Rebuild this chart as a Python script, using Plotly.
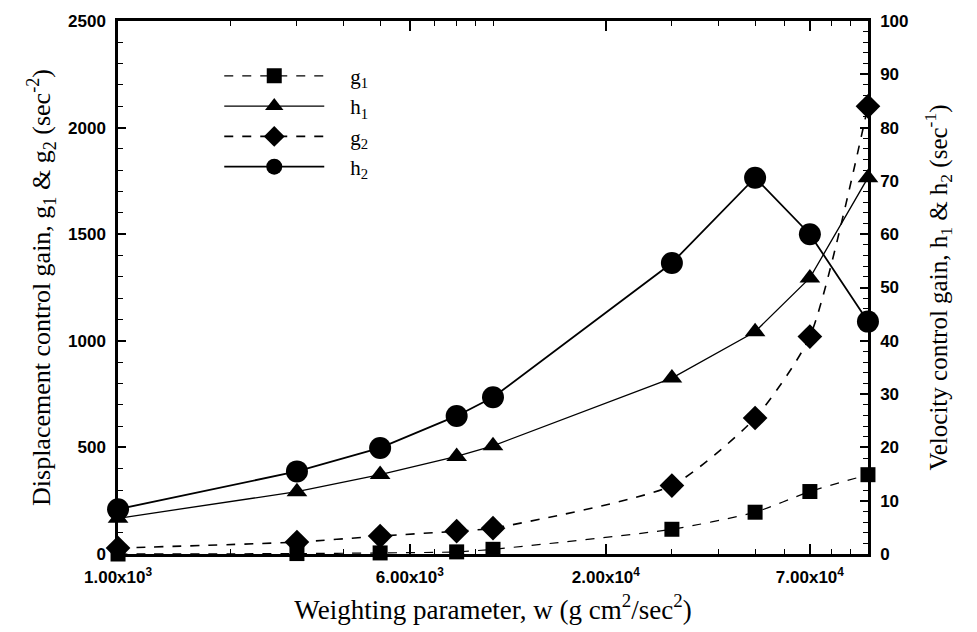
import plotly.graph_objects as go

w = [1000, 3000, 5000, 8000, 10000, 30000, 50000, 70000, 100000]
g1 = [0, 2, 5, 10, 22, 116, 196, 293, 372]
g2 = [28, 56, 84, 107, 121, 321, 638, 1020, 2100]
h1 = [6.7, 11.7, 14.9, 18.3, 20.3, 33.0, 41.7, 51.8, 70.6]
h2 = [8.4, 15.5, 19.9, 25.9, 29.4, 54.6, 70.6, 60.0, 43.6]

x_tickvals = [1000, 6000, 20000, 70000]
x_ticktext = ["1.00x10<sup>3</sup>", "6.00x10<sup>3</sup>", "2.00x10<sup>4</sup>", "7.00x10<sup>4</sup>"]

serif = "Liberation Serif, Times New Roman, serif"
sans = "Liberation Sans, Arial, sans-serif"
pad = "\u00a0" * 4

fig = go.Figure()
fig.add_trace(go.Scatter(x=w, y=g1, name=pad + "g<sub>1</sub>", mode="lines+markers",
                         line=dict(color="black", width=1.2, dash="dash", shape="spline", smoothing=0.6),
                         marker=dict(symbol="square", size=15, color="black"), cliponaxis=False))
fig.add_trace(go.Scatter(x=w, y=h1, name=pad + "h<sub>1</sub>", mode="lines+markers", yaxis="y2",
                         line=dict(color="black", width=1.3),
                         marker=dict(symbol="triangle-up", size=18, color="black"), cliponaxis=False))
fig.add_trace(go.Scatter(x=w, y=g2, name=pad + "g<sub>2</sub>", mode="lines+markers",
                         line=dict(color="black", width=1.6, dash="dash", shape="spline", smoothing=0.6),
                         marker=dict(symbol="diamond", size=19, color="black"), cliponaxis=False))
fig.add_trace(go.Scatter(x=w, y=h2, name=pad + "h<sub>2</sub>", mode="lines+markers", yaxis="y2",
                         line=dict(color="black", width=1.8),
                         marker=dict(symbol="circle", size=22, color="black"), cliponaxis=False))

axis_common = dict(showgrid=False, zeroline=False, showline=True, linecolor="black", linewidth=2.5,
                   ticks="inside", tickcolor="black", tickwidth=1.5, ticklabelstandoff=6,
                   tickfont=dict(family=sans, size=17, color="black", weight="bold"))

fig.update_layout(
    width=977, height=632,
    margin=dict(l=118, r=109, t=19, b=76),
    paper_bgcolor="white", plot_bgcolor="white",
    showlegend=True,
    legend=dict(x=0.135, y=0.935, xanchor="left", yanchor="top", bgcolor="rgba(0,0,0,0)",
                font=dict(family=serif, size=21, color="black"), itemwidth=100,
                tracegroupgap=0, traceorder="normal"),
    xaxis=dict(type="log", range=[2.9999, 5.0001], tickvals=x_tickvals, ticktext=x_ticktext, ticklen=10,
               mirror="ticks",
               minor=dict(ticks="inside", dtick="D1", ticklen=5, tickcolor="black", tickwidth=1),
               title=dict(text="Weighting parameter, w (g cm<sup>2</sup>/sec<sup>2</sup>)",
                          font=dict(family=serif, size=27, color="black"), standoff=14),
               **axis_common),
    yaxis=dict(range=[0, 2500], dtick=500, ticklen=8,
               minor=dict(ticks="inside", dtick=100, ticklen=5, tickcolor="black", tickwidth=1),
               title=dict(text="Displacement control gain, g<sub>1</sub> & g<sub>2</sub> (sec<sup>-2</sup>)",
                          font=dict(family=serif, size=26, color="black"), standoff=10),
               **axis_common),
    yaxis2=dict(range=[0, 100], dtick=10, ticklen=8, overlaying="y", side="right",
                minor=dict(ticks="inside", dtick=2, ticklen=5, tickcolor="black", tickwidth=1),
                title=dict(text="Velocity control gain, h<sub>1</sub> & h<sub>2</sub> (sec<sup>-1</sup>)",
                           font=dict(family=serif, size=25, color="black"), standoff=22),
                **axis_common),
)

fig.write_html("out.html")
